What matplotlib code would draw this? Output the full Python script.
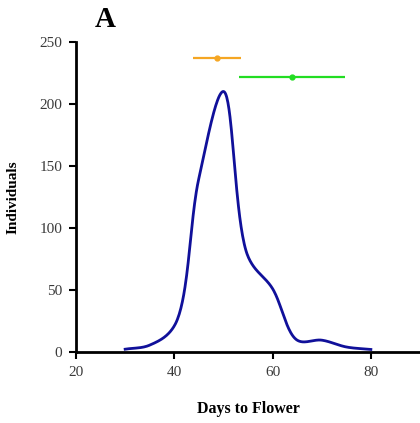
import numpy as np
import matplotlib.pyplot as plt

# flowering-time distribution, 5-day bins
days = [30, 35, 40, 45, 50, 55, 60, 65, 70, 75, 80]
individuals = [2.2, 5.5, 21, 140, 210, 77, 51, 9.5, 9.5, 4, 2]

# mean +/- spread bars above the curve
bar_means = [48.7, 64.0]
bar_errs = [4.9, 10.8]
bar_levels = [237, 222]
bar_colors = ["#F5A623", "#22DD22"]


def smooth(x, y, sx=4.92, sy=1.24, n=40):
    # centripetal Catmull-Rom in screen-like units (spreadsheet style smoothed line)
    P = np.column_stack([np.asarray(x, float) * sx, np.asarray(y, float) * sy])
    P = np.vstack([2 * P[0] - P[1], P, 2 * P[-1] - P[-2]])
    out = []
    for i in range(1, len(P) - 2):
        p0, p1, p2, p3 = P[i - 1], P[i], P[i + 1], P[i + 2]
        t0 = 0.0
        t1 = t0 + np.linalg.norm(p1 - p0) ** 0.5
        t2 = t1 + np.linalg.norm(p2 - p1) ** 0.5
        t3 = t2 + np.linalg.norm(p3 - p2) ** 0.5
        t = np.linspace(t1, t2, n, endpoint=False)[:, None]
        a1 = (t1 - t) / (t1 - t0) * p0 + (t - t0) / (t1 - t0) * p1
        a2 = (t2 - t) / (t2 - t1) * p1 + (t - t1) / (t2 - t1) * p2
        a3 = (t3 - t) / (t3 - t2) * p2 + (t - t2) / (t3 - t2) * p3
        b1 = (t2 - t) / (t2 - t0) * a1 + (t - t0) / (t2 - t0) * a2
        b2 = (t3 - t) / (t3 - t1) * a2 + (t - t1) / (t3 - t1) * a3
        out.append((t2 - t) / (t2 - t1) * b1 + (t - t1) / (t2 - t1) * b2)
    out.append(P[-2][None, :])
    c = np.vstack(out)
    return c[:, 0] / sx, c[:, 1] / sy


plt.rcParams['font.family'] = ['Liberation Serif', 'DejaVu Serif']

fig = plt.figure(figsize=(4.2, 4.23), dpi=100)
ax = fig.add_axes([0.181, 0.168, 0.819, 0.733])

cx, cy = smooth(days, individuals)
ax.plot(cx, cy, color="#10109A", linewidth=2)

for m, e, lv, c in zip(bar_means, bar_errs, bar_levels, bar_colors):
    ax.errorbar(m, lv, xerr=e, fmt='o', color=c, markersize=3.5,
                elinewidth=1.6, capsize=0)

ax.set_xlim(20, 90)
ax.set_ylim(0, 250)
ax.set_xticks([20, 40, 60, 80])
ax.set_yticks([0, 50, 100, 150, 200, 250])

for s in ['top', 'right']:
    ax.spines[s].set_visible(False)
for s in ['left', 'bottom']:
    ax.spines[s].set_linewidth(2)
ax.tick_params(direction='out', length=5, width=1.5, labelsize=11,
               labelcolor="#3a3a3a", pad=5)

ax.set_xlabel("Days to Flower", fontsize=11.5, fontweight='bold', labelpad=16)
ax.set_ylabel("Individuals", fontsize=11, fontweight='bold', labelpad=14)

fig.text(0.225, 0.935, "A", fontsize=21, fontweight='bold')

fig.savefig("out.png", dpi=100)
